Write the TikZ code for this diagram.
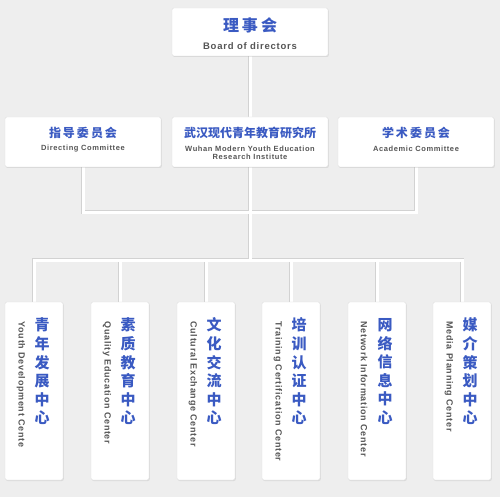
\documentclass[tikz,border=0pt]{standalone}
\usepackage{fontspec}
\setmainfont{Liberation Sans}
\newfontfamily\enwide{Liberation Sans}[LetterSpace=8]
\newfontfamily\cjk{Noto Sans CJK SC}
\usetikzlibrary{shadows,backgrounds}
\definecolor{bluetxt}{HTML}{3A5AC2}
\definecolor{graytxt}{HTML}{555555}
\definecolor{bgcol}{HTML}{EEEEEE}
\tikzset{
  box/.style={draw=gray!25, fill=white, rounded corners=2pt,
    drop shadow={shadow xshift=0.8pt, shadow yshift=-1pt, opacity=0.18}},
  cnbig/.style={font=\cjk\bfseries\fontsize{16}{18}\selectfont, text=bluetxt},
  cnmid/.style={font=\cjk\bfseries\fontsize{12}{14}\selectfont, text=bluetxt},
  cnvert/.style={font=\cjk\bfseries\fontsize{15}{18.6}\selectfont, text=bluetxt, align=center},
  enbig/.style={font=\enwide\bfseries\fontsize{9.5}{11}\selectfont, text=graytxt},
  ensmall/.style={font=\enwide\bfseries\fontsize{7.5}{8.5}\selectfont, text=graytxt, align=center},
  envert/.style={font=\enwide\bfseries\fontsize{9}{10}\selectfont, text=graytxt, rotate=-90, anchor=west},
  link/.style={draw=white, line width=3pt, preaction={draw=gray!35, line width=4.6pt}}
}
\begin{document}
\begin{tikzpicture}[x=1pt, y=-1pt]
    % Board
    \node[box, minimum width=156pt, minimum height=48pt] (board) at (250,32) {};
    \node[cnbig] (boardcn) at (250,25) {理\hspace{3pt}事\hspace{3pt}会};
    \node[enbig] (boarden) at (250,46) {Board of directors};

    % Second row
    \node[box, minimum width=156pt, minimum height=50pt] (guide) at (83,142) {};
    \node[cnmid] (guidecn) at (83,133) {指\hspace{2pt}导\hspace{2pt}委\hspace{2pt}员\hspace{2pt}会};
    \node[ensmall] (guideen) at (83,149) {Directing Committee};

    \node[box, minimum width=156pt, minimum height=50pt] (inst) at (250,142) {};
    \node[cnmid] (instcn) at (250,133) {武汉现代青年教育研究所};
    \node[ensmall] (insten) at (250,153) {Wuhan Modern Youth Education\\Research Institute};

    \node[box, minimum width=156pt, minimum height=50pt] (acad) at (416,142) {};
    \node[cnmid] (acadcn) at (416,133) {学\hspace{2pt}术\hspace{2pt}委\hspace{2pt}员\hspace{2pt}会};
    \node[ensmall] (acaden) at (416,149) {Academic Committee};

    % Centres
    \foreach \i/\x/\cn/\en in {
        1/34/{青\\年\\发\\展\\中\\心}/{Youth Development Cente},
        2/120/{素\\质\\教\\育\\中\\心}/{Quality Education Center},
        3/206/{文\\化\\交\\流\\中\\心}/{Cultural Exchange Center},
        4/291/{培\\训\\认\\证\\中\\心}/{Training Certification Center},
        5/377/{网\\络\\信\\息\\中\\心}/{Network Information Center},
        6/462/{媒\\介\\策\\划\\中\\心}/{Media Planning Center}} {
        \node[box, minimum width=58pt, minimum height=178pt] (c\i) at (\x,391) {};
        \node[cnvert] (c\i cn) at (\x+8,371.5) {\cn};
        \node[envert] (c\i en) at (\x-13,318) {\en};
    }

    \coordinate (bus1) at (250,212);
    \coordinate (bus2) at (250,260);

    \begin{pgfonlayer}{background}
    \fill[bgcol] (0,0) rectangle (500,497);
    % Connectors
    \draw[link] (board.south) -- (inst.north)
        (guide.south) |- (bus1) -| (acad.south)
        (inst.south) -- (bus2)
        (c1.north) |- (bus2) -| (c6.north)
        \foreach \i in {2,...,5} {(c\i.north) -- (c\i.north |- bus2)};
    \end{pgfonlayer}
\end{tikzpicture}
\end{document}
